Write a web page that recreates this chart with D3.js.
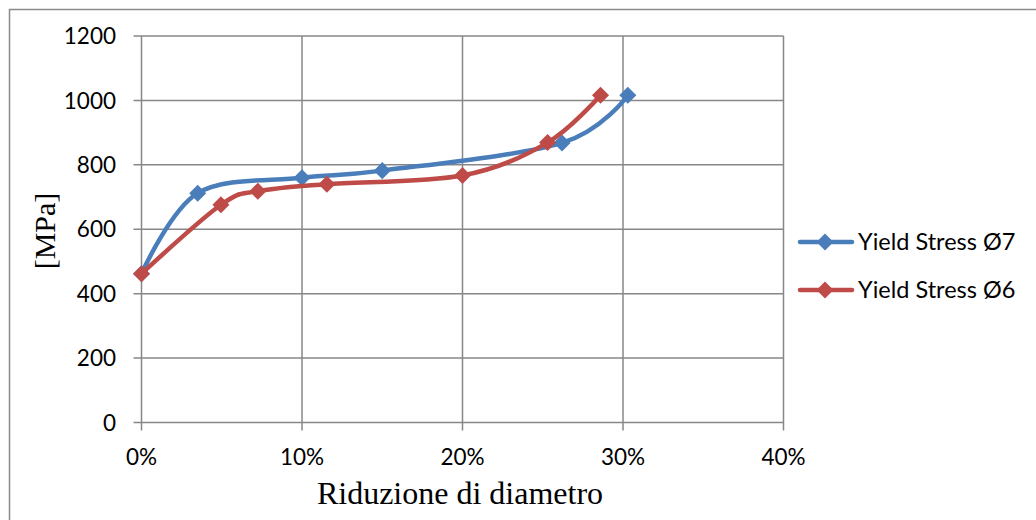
<!DOCTYPE html>
<html>
<head>
<meta charset="utf-8">
<script src="https://cdn.jsdelivr.net/npm/d3@7"></script>
<style>
  html, body { margin: 0; padding: 0; background: #fff; }
  svg { display: block; }
</style>
</head>
<body>
<svg id="chart" width="1036" height="520"></svg>
<script>
// Yield stress vs. diameter reduction, two wire diameters
const reduction7 = [0, 0.035, 0.10, 0.15, 0.262, 0.303];
const stress7    = [462, 712, 760, 782, 868, 1016];

const reduction6 = [0, 0.0495, 0.0725, 0.1155, 0.20, 0.253, 0.286];
const stress6    = [462, 676, 718, 740, 767, 869, 1016];

const seriesNames = ["Yield Stress Ø7", "Yield Stress Ø6"];
const seriesColors = ["#4a7ebb", "#be4b48"];

const xTicks = [0, 0.1, 0.2, 0.3, 0.4];
const yTicks = [0, 200, 400, 600, 800, 1000, 1200];

const svg = d3.select("#chart");

// outer frame
svg.append("path")
  .attr("d", "M9.5,520 V9.5 H1036")
  .attr("fill", "none")
  .attr("stroke", "#8a8a8a")
  .attr("stroke-width", 1.5);

const x = d3.scaleLinear().domain([0, 0.4]).range([141.5, 783.5]);
const y = d3.scaleLinear().domain([0, 1200]).range([422.5, 36]);

const gridColor = "#878787";

// gridlines with outside tick marks
svg.append("g").selectAll("line").data(yTicks).join("line")
  .attr("x1", x(0) - 8).attr("x2", x(0.4))
  .attr("y1", d => y(d)).attr("y2", d => y(d))
  .attr("stroke", gridColor).attr("stroke-width", 1.5);

svg.append("g").selectAll("line").data(xTicks).join("line")
  .attr("x1", d => x(d)).attr("x2", d => x(d))
  .attr("y1", y(1200)).attr("y2", y(0) + 8)
  .attr("stroke", gridColor).attr("stroke-width", 1.5);

// tick labels
const tickFont = "Lato, 'Open Sans', sans-serif";
svg.append("g").selectAll("text").data(yTicks).join("text")
  .attr("x", 116)
  .attr("y", d => y(d))
  .attr("dy", "0.36em")
  .attr("text-anchor", "end")
  .attr("font-family", tickFont)
  .attr("font-size", 22.5)
  .attr("fill", "#000")
  .text(d => d);

svg.append("g").selectAll("text").data(xTicks).join("text")
  .attr("x", d => x(d))
  .attr("y", 465)
  .attr("text-anchor", "middle")
  .attr("font-family", tickFont)
  .attr("font-size", 22.5)
  .attr("fill", "#000")
  .text(d => d3.format(".0%")(d));

// axis titles
const titleFont = "'Liberation Serif', 'DejaVu Serif', serif";
svg.append("text")
  .attr("x", 460)
  .attr("y", 504)
  .attr("text-anchor", "middle")
  .attr("font-family", titleFont)
  .attr("font-size", 32)
  .attr("fill", "#000")
  .text("Riduzione di diametro");

svg.append("text")
  .attr("transform", "translate(55,231) rotate(-90)")
  .attr("text-anchor", "middle")
  .attr("font-family", titleFont)
  .attr("font-size", 30)
  .attr("fill", "#000")
  .text("[MPa]");

// series
const series = [
  { xs: reduction7, ys: stress7 },
  { xs: reduction6, ys: stress6 }
];

const line = d3.line()
  .x(d => x(d[0]))
  .y(d => y(d[1]))
  .curve(d3.curveCatmullRom.alpha(0));

// square marker turned 45° gives the diamond
const diamond = d3.symbol().type(d3.symbolSquare).size(145);

series.forEach((s, i) => {
  const pts = s.xs.map((v, k) => [v, s.ys[k]]);
  const g = svg.append("g");
  g.append("path")
    .attr("d", line(pts))
    .attr("fill", "none")
    .attr("stroke", seriesColors[i])
    .attr("stroke-width", 4.5)
    .attr("stroke-linecap", "round");
  g.selectAll("path.m").data(pts).join("path")
    .attr("class", "m")
    .attr("transform", d => `translate(${x(d[0])},${y(d[1])}) rotate(45)`)
    .attr("d", diamond)
    .attr("fill", seriesColors[i]);
});

// legend
const legend = svg.append("g");
seriesNames.forEach((name, i) => {
  const ly = 242 + i * 48;
  legend.append("line")
    .attr("x1", 800).attr("x2", 852)
    .attr("y1", ly).attr("y2", ly)
    .attr("stroke", seriesColors[i])
    .attr("stroke-width", 4.5)
    .attr("stroke-linecap", "round");
  legend.append("path")
    .attr("transform", `translate(825,${ly}) rotate(45)`)
    .attr("d", diamond)
    .attr("fill", seriesColors[i]);
  legend.append("text")
    .attr("x", 858)
    .attr("y", ly)
    .attr("dy", "0.36em")
    .attr("font-family", tickFont)
    .attr("font-size", 23.5)
    .attr("fill", "#000")
    .text(name);
});
</script>
</body>
</html>
